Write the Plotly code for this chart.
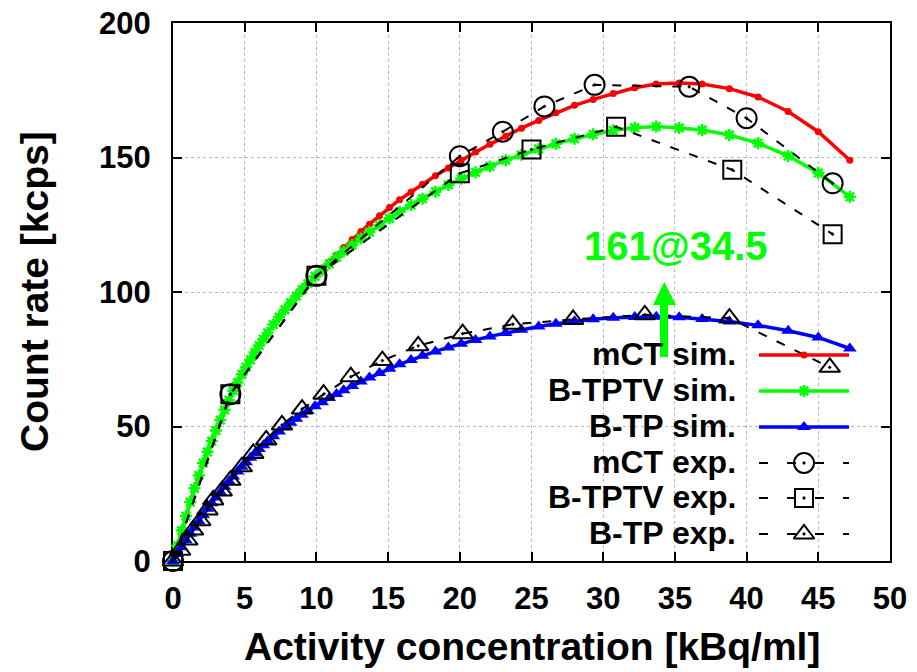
import plotly.graph_objects as go

# ---------------- data ----------------
sim_x = [0.0, 0.3, 0.6, 0.9, 1.2, 1.5, 1.8, 2.1, 2.4, 2.7, 3.0, 3.3, 3.6, 3.9, 4.2, 4.5,
         4.8, 5.1, 5.4, 5.7, 6.0, 6.3, 6.6, 7.0, 7.4, 7.8, 8.2, 8.6, 9.0, 9.4, 9.9, 10.4,
         10.9, 11.4, 11.9, 12.5, 13.1, 13.7, 14.4, 15.1, 15.8, 16.6, 17.4, 18.3, 19.2, 20.1,
         21.1, 22.1, 23.2, 24.3, 25.5, 26.7, 28.0, 29.3, 30.7, 32.2, 33.7, 35.3, 36.9, 38.8,
         40.8, 42.9, 45.0, 47.2]

mct_sim = [0, 5.7, 11.3, 16.7, 21.9, 27.0, 31.8, 36.4, 40.6, 44.6, 48.5, 52.4, 56.2, 59.8,
           63.3, 66.4, 69.4, 72.1, 74.8, 77.5, 80.1, 82.5, 84.8, 87.9, 90.7, 93.4, 96.0, 98.5,
           100.9, 103.1, 105.8, 108.4, 111.0, 113.7, 116.5, 119.5, 122.5, 125.2, 128.3, 131.4,
           134.3, 137.2, 140.1, 143.2, 146.1, 149.0, 152.0, 154.9, 157.9, 160.9, 163.8, 166.6,
           169.4, 171.6, 173.8, 175.9, 177.3, 177.7, 177.3, 175.6, 172.5, 167.1, 159.6, 149.0]

btptv_sim = [0, 5.7, 11.3, 16.7, 21.9, 27.0, 31.8, 36.4, 40.6, 44.6, 48.5, 52.4, 56.2, 59.8,
             63.3, 66.4, 69.4, 72.1, 74.8, 77.5, 80.1, 82.5, 84.8, 87.9, 90.7, 93.4, 96.0, 98.5,
             100.9, 103.1, 105.8, 108.1, 110.5, 112.9, 115.1, 117.5, 119.9, 122.3, 124.9, 127.4,
             129.8, 132.3, 134.7, 137.3, 139.8, 142.1, 144.5, 146.7, 149.0, 151.0, 153.2, 155.1,
             157.0, 158.6, 160.1, 161.1, 161.5, 161.0, 160.2, 158.4, 155.3, 150.6, 144.3, 135.4]

btp_sim = [0, 2.6, 5.1, 7.7, 10.1, 12.5, 14.8, 17.1, 19.4, 21.5, 23.6, 25.6, 27.6, 29.6,
           31.4, 33.3, 35.0, 36.7, 38.4, 40.0, 41.6, 43.0, 44.5, 46.4, 48.1, 49.8, 51.4, 52.9,
           54.4, 55.8, 57.5, 59.0, 60.6, 62.1, 63.5, 65.1, 66.7, 68.2, 69.9, 71.5, 73.1, 74.7,
           76.3, 77.9, 79.4, 80.8, 82.2, 83.5, 84.8, 86.0, 87.2, 88.2, 89.1, 89.9, 90.4, 90.7,
           90.8, 90.6, 90.0, 89.0, 87.6, 85.6, 83.1, 79.0]

mct_exp_x = [0, 4, 10, 20, 23, 25.9, 29.4, 36, 40, 46]
mct_exp_y = [0, 62, 106, 150.5, 159.6, 169, 177, 176.3, 164.6, 140.4]

btptv_exp_x = [0, 4, 10, 20, 25, 30.9, 39, 46]
btptv_exp_y = [0, 62, 106, 144.1, 153, 161.4, 145.4, 121.5]

btp_exp_x = [0, 0.5, 1.0, 1.4, 1.9, 2.4, 2.8, 3.4, 4.0, 4.8, 5.6, 6.5, 7.6, 9.0, 10.5,
             12.4, 14.6, 17.1, 20.2, 23.7, 27.9, 32.9, 38.8, 45.8]
btp_exp_y = [0, 4, 7.8, 11.5, 15, 19, 22.7, 26, 30, 35, 40, 45, 50.6, 56.5, 62,
             68.5, 74.5, 80, 84.5, 88, 89.8, 91.5, 90.3, 72]

series_names = ["mCT sim.", "B-TPTV sim.", "B-TP sim.", "mCT exp.", "B-TPTV exp.", "B-TP exp."]
x_ticks = [0, 5, 10, 15, 20, 25, 30, 35, 40, 45, 50]
y_ticks = [0, 50, 100, 150, 200]
x_title = "Activity concentration [kBq/ml]"
y_title = "Count rate [kcps]"
peak_label = "161@34.5"

# ---------------- styles ----------------
FONT = "Liberation Sans, Arial, Helvetica, sans-serif"
RED, GREEN, BLUE = "#ff0000", "#00ff00", "#0000ff"
SIM_W = 3.5
EXP_DASH = "9px,11px"

sim_styles = [
    dict(line=dict(color=RED, width=SIM_W), marker=dict(symbol="circle", size=7, color=RED)),
    dict(line=dict(color=GREEN, width=SIM_W),
         marker=dict(symbol="asterisk-open", size=10, color=GREEN, line=dict(color=GREEN, width=2.5))),
    dict(line=dict(color=BLUE, width=SIM_W), marker=dict(symbol="triangle-up", size=12, color=BLUE)),
]
exp_styles = [
    dict(line=dict(color="black", width=2, dash=EXP_DASH),
         marker=dict(symbol="circle-open-dot", size=20, color="black", line=dict(color="black", width=2))),
    dict(line=dict(color="black", width=2, dash=EXP_DASH),
         marker=dict(symbol="square-open-dot", size=18, color="black", line=dict(color="black", width=2))),
    dict(line=dict(color="black", width=2, dash=EXP_DASH),
         marker=dict(symbol="triangle-up-open-dot", size=18, color="black", line=dict(color="black", width=2))),
]

# ---------------- layout geometry (pixels) ----------------
W, H = 917, 672
L, R, T, B = 173, 890, 23, 561
XMAX, YMAX = 50, 200


def px_x(p):
    return (p - L) / (R - L)


def px_y(p):
    return (B - p) / (B - T)


fig = go.Figure()

for ys, st in zip([mct_sim, btptv_sim, btp_sim], sim_styles):
    fig.add_trace(go.Scatter(x=sim_x, y=ys, mode="lines+markers", showlegend=False,
                             cliponaxis=False, **st))

for xs, ys, st in zip([mct_exp_x, btptv_exp_x, btp_exp_x], [mct_exp_y, btptv_exp_y, btp_exp_y], exp_styles):
    fig.add_trace(go.Scatter(x=xs, y=ys, mode="lines+markers", showlegend=False,
                             cliponaxis=False, **st))

# ---------------- manual key (pixel overlay axes) ----------------
key_rows = [355, 391, 427, 463, 498, 534]
key_text_x = 737
key_line = [759, 849]
key_mark_x = 804

for i, name in enumerate(series_names):
    yy = key_rows[i]
    st = (sim_styles + exp_styles)[i]
    line = dict(st["line"])
    if i >= 3:
        line["dash"] = "9px,19px"
    fig.add_trace(go.Scatter(x=key_line, y=[yy, yy], mode="lines", line=line,
                             xaxis="x2", yaxis="y2", showlegend=False, hoverinfo="skip"))
    fig.add_trace(go.Scatter(x=[key_mark_x], y=[yy], mode="markers", marker=st["marker"],
                             xaxis="x2", yaxis="y2", showlegend=False, hoverinfo="skip"))
    fig.add_annotation(x=px_x(key_text_x), y=px_y(yy - 1), xref="paper", yref="paper", text=name,
                       showarrow=False, xanchor="right", yanchor="middle", borderpad=0,
                       font=dict(family=FONT, size=32, color="black", weight="bold"))

# key background blanking the grid
fig.add_shape(type="rect", xref="paper", yref="paper", x0=px_x(513), x1=px_x(871),
              y0=px_y(560), y1=px_y(337), fillcolor="white", line=dict(width=0), layer="below")

# peak label + arrow
fig.add_annotation(x=px_x(676), y=px_y(246), xref="paper", yref="paper", text=peak_label,
                   showarrow=False, xanchor="center", yanchor="middle",
                   font=dict(family=FONT, size=40, color=GREEN, weight="bold"))
arrow_pts = [(660, 357), (668, 357), (668, 305), (676, 305), (664.3, 282), (653, 305), (660, 305)]
arrow_path = "M " + " L ".join(f"{px_x(a):.5f},{px_y(b):.5f}" for a, b in arrow_pts) + " Z"
fig.add_shape(type="path", xref="paper", yref="paper", path=arrow_path,
              fillcolor=GREEN, line=dict(width=0), layer="above")

# axis titles
fig.add_annotation(x=px_x(531.5), y=px_y(646), xref="paper", yref="paper", text=x_title,
                   showarrow=False, xanchor="center", yanchor="middle",
                   font=dict(family=FONT, size=39, color="black", weight="bold"))
fig.add_annotation(x=px_x(34), y=px_y(292), xref="paper", yref="paper", text=y_title,
                   showarrow=False, textangle=-90, xanchor="center", yanchor="middle",
                   font=dict(family=FONT, size=39, color="black", weight="bold"))

axis_common = dict(
    showgrid=True, gridcolor="#b8b8b8", griddash="dot", gridwidth=1,
    showline=True, linecolor="black", linewidth=2, mirror="ticks",
    ticks="inside", ticklen=9, tickwidth=1.5, tickcolor="black",
    zeroline=False, tickfont=dict(family=FONT, size=31, color="black", weight="bold"),
    layer="below traces",
)

fig.update_layout(
    width=W, height=H,
    margin=dict(l=L, r=W - R, t=T, b=H - B, pad=0, autoexpand=False),
    paper_bgcolor="white", plot_bgcolor="rgba(0,0,0,0)",
    font=dict(family=FONT, color="black"),
    xaxis=dict(range=[0, XMAX], tickvals=x_ticks, ticklabelstandoff=9, **axis_common),
    yaxis=dict(range=[0, YMAX], tickvals=y_ticks, ticklabelstandoff=14, **axis_common),
    xaxis2=dict(range=[L, R], overlaying="x", visible=False, anchor="y2", fixedrange=True),
    yaxis2=dict(range=[B, T], overlaying="y", visible=False, anchor="x2", fixedrange=True),
)

fig.write_html("out.html", config={"displayModeBar": False},
               post_script="document.body.style.margin='0';document.body.style.padding='0';")
